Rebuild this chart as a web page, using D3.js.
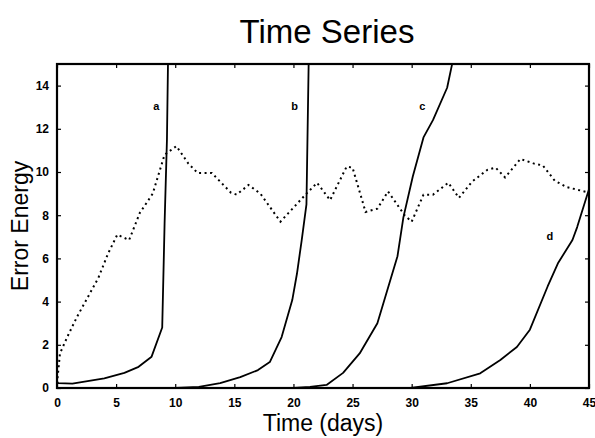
<!DOCTYPE html>
<html>
<head>
<meta charset="utf-8">
<script src="https://cdn.jsdelivr.net/npm/d3@7"></script>
<style>
  body { margin: 0; background: #fff; }
  svg { font-family: "Liberation Sans", Arial, Helvetica, sans-serif; }
</style>
</head>
<body>
<div class="canvas"></div>
<script>
// days, error energy
const dottedDays = [0, 0.25, 0.9, 1.7, 2.6, 3.5, 4.3, 5.1, 6.1, 7.0, 8.1, 9.1, 10.1, 11.1, 11.9, 13.1, 14.7, 15.2, 16.2, 17.2, 18.9, 21.1, 22.0, 23.1, 24.5, 25.0, 26.1, 27.1, 28.0, 29.4, 30.0, 31.0, 31.8, 33.1, 34.0, 35.1, 36.4, 37.1, 37.9, 39.2, 40.3, 41.1, 42.1, 43.1, 45]
const dottedVals = [0.2, 1.6, 2.4, 3.3, 4.2, 5.1, 6.2, 7.1, 6.85, 8.1, 9.0, 10.8, 11.2, 10.4, 9.95, 9.95, 9.05, 8.95, 9.4, 9.0, 7.7, 9.0, 9.5, 8.7, 10.25, 10.2, 8.15, 8.3, 9.1, 8.0, 7.7, 8.95, 8.95, 9.5, 8.8, 9.55, 10.1, 10.2, 9.75, 10.6, 10.4, 10.3, 9.6, 9.3, 9.05]

const aDays = [0, 0.1, 1.3, 4.0, 5.7, 6.9, 8.0, 8.9, 9.1, 9.3, 9.4]
const aVals = [0.3, 0.23, 0.2, 0.45, 0.7, 0.98, 1.45, 2.8, 7.6, 11.5, 15.5]

const bDays = [10, 12, 13.8, 15.5, 17.0, 18.0, 19.0, 19.9, 20.3, 20.7, 21.1, 21.3]
const bVals = [0, 0.05, 0.23, 0.5, 0.83, 1.2, 2.36, 4.07, 5.3, 6.85, 8.5, 15.5]

const cDays = [20, 21.4, 22.8, 24.2, 25.6, 27.1, 28.8, 29.3, 30.1, 31.0, 31.8, 33.0, 33.5]
const cVals = [0, 0.05, 0.14, 0.7, 1.6, 3.0, 6.1, 7.9, 9.8, 11.6, 12.4, 13.9, 15.2]

const dDays = [28, 29.9, 33.0, 35.8, 37.5, 38.9, 40.0, 41.5, 42.4, 43.6, 44.0, 44.8, 45]
const dVals = [0, 0.0, 0.22, 0.68, 1.3, 1.9, 2.7, 4.7, 5.8, 6.85, 7.45, 8.85, 9.2]

const curveNames = ["a", "b", "c", "d"]
const labelDays = [8.4, 20.1, 30.9, 41.7]
const labelVals = [13.0, 13.0, 13.0, 7.0]

const xTicks = [0, 5, 10, 15, 20, 25, 30, 35, 40, 45]
const yTicks = [0, 2, 4, 6, 8, 10, 12, 14]

const drawChart = (width, height) => {

    const margin = {top: 64, right: 6, bottom: 50, left: 57}
    const graphWidth = width - margin.left - margin.right
    const graphHeight = height - margin.top - margin.bottom

    const svg = d3.select(".canvas").append("svg").attr("width", width).attr("height", height)

    const graph = svg.append("g")
        .attr("transform", `translate(${margin.left}, ${margin.top})`)

    svg.append("defs").append("clipPath").attr("id", "plotClip")
        .append("rect").attr("x", 0).attr("y", 0).attr("width", graphWidth).attr("height", graphHeight)

    //scales
    const x = d3.scaleLinear().domain([0, 45]).range([0, graphWidth])
    const y = d3.scaleLinear().domain([0, 15]).range([graphHeight, 0])

    const toPoints = (xs, ys) => xs.map((d, i) => [d, ys[i]])
    const line = d3.line().x(d => x(d[0])).y(d => y(d[1]))

    const plot = graph.append("g").attr("clip-path", "url(#plotClip)")

    plot.append("path")
        .datum(toPoints(dottedDays, dottedVals))
        .attr("d", line)
        .attr("fill", "none")
        .attr("stroke", "#000")
        .attr("stroke-width", 2)
        .attr("stroke-dasharray", "2,3.5")

    const solids = [[aDays, aVals], [bDays, bVals], [cDays, cVals], [dDays, dVals]]
    solids.forEach(s => {
        plot.append("path")
            .datum(toPoints(s[0], s[1]))
            .attr("d", line)
            .attr("fill", "none")
            .attr("stroke", "#000")
            .attr("stroke-width", 1.8)
            .attr("stroke-linejoin", "round")
    })

    // curve labels
    graph.selectAll(".curveLabel")
        .data(curveNames)
        .enter().append("text")
        .attr("class", "curveLabel")
        .attr("x", (d, i) => x(labelDays[i]))
        .attr("y", (d, i) => y(labelVals[i]))
        .attr("text-anchor", "middle")
        .attr("dominant-baseline", "middle")
        .attr("font-size", 11)
        .attr("font-weight", "bold")
        .text(d => d)

    // axes, ticks pointing inwards like matlab
    const tickStyle = g => {
        g.select(".domain").remove()
        g.selectAll(".tick line").attr("stroke", "#000").attr("stroke-width", 1.2)
        g.selectAll(".tick text").attr("font-size", 12).attr("font-weight", "bold").attr("fill", "#000")
    }

    graph.append("g")
        .attr("transform", `translate(0, ${graphHeight})`)
        .call(d3.axisBottom(x).tickValues(xTicks).tickSize(-4).tickPadding(10))
        .call(tickStyle)

    graph.append("g")
        .call(d3.axisLeft(y).tickValues(yTicks).tickSize(-4).tickPadding(8))
        .call(tickStyle)

    graph.append("g")
        .call(d3.axisTop(x).tickValues(xTicks).tickSize(-4).tickFormat(""))
        .call(tickStyle)

    graph.append("g")
        .attr("transform", `translate(${graphWidth}, 0)`)
        .call(d3.axisRight(y).tickValues(yTicks).tickSize(-4).tickFormat(""))
        .call(tickStyle)

    graph.append("rect")
        .attr("width", graphWidth)
        .attr("height", graphHeight)
        .attr("fill", "none")
        .attr("stroke", "#000")
        .attr("stroke-width", 2.2)

    // titles
    svg.append("text")
        .attr("x", 327)
        .attr("y", 43)
        .attr("text-anchor", "middle")
        .attr("font-size", 33)
        .text("Time Series")

    svg.append("text")
        .attr("x", margin.left + graphWidth / 2)
        .attr("y", 431)
        .attr("text-anchor", "middle")
        .attr("font-size", 23)
        .text("Time (days)")

    svg.append("text")
        .attr("transform", `translate(28, ${margin.top + graphHeight / 2}) rotate(-90)`)
        .attr("text-anchor", "middle")
        .attr("font-size", 23)
        .text("Error Energy")
}

drawChart(595, 438)
</script>
</body>
</html>
